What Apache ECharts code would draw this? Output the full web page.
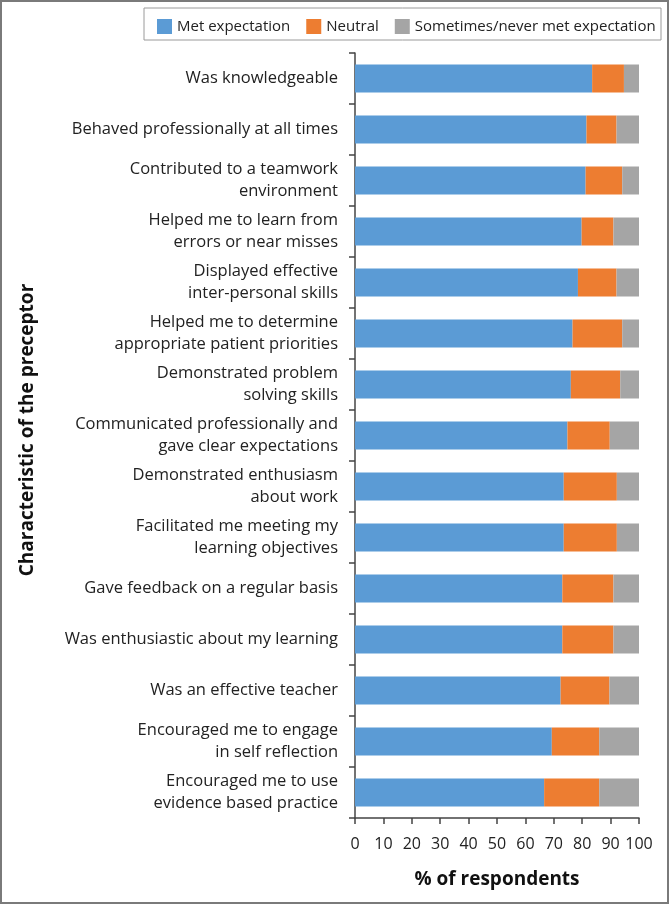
<!DOCTYPE html>
<html><head><meta charset="utf-8">
<script src="https://cdn.jsdelivr.net/npm/echarts@6/dist/echarts.min.js"></script>
<style>html,body{margin:0;padding:0;background:#fff}#c{width:670px;height:905px}</style>
</head><body><div id="c"></div>
<script>
const categories = [
  "Was knowledgeable",
  "Behaved professionally at all times",
  "Contributed to a teamwork\nenvironment",
  "Helped me to learn from\nerrors or near misses",
  "Displayed effective\ninter-personal skills",
  "Helped me to determine\nappropriate patient priorities",
  "Demonstrated problem\nsolving skills",
  "Communicated professionally and\ngave clear expectations",
  "Demonstrated enthusiasm\nabout work",
  "Facilitated me meeting my\nlearning objectives",
  "Gave feedback on a regular basis",
  "Was enthusiastic about my learning",
  "Was an effective teacher",
  "Encouraged me to engage\nin self reflection",
  "Encouraged me to use\nevidence based practice"
];
const metExpectation = [83.5, 81.5, 81.2, 79.8, 78.5, 76.6, 76.0, 74.8, 73.5, 73.5, 73.0, 73.0, 72.4, 69.3, 66.6];
const neutral        = [11.2, 10.6, 12.9, 11.2, 13.6, 17.5, 17.4, 14.9, 18.7, 18.7, 18.0, 18.0, 17.2, 16.7, 19.4];
const sometimesNever = [5.3, 7.9, 5.9, 9.0, 7.9, 5.9, 6.6, 10.3, 7.8, 7.8, 9.0, 9.0, 10.4, 14.0, 14.0];
const seriesNames = ["Met expectation", "Neutral", "Sometimes/never met expectation"];
const xTicks = [0, 10, 20, 30, 40, 50, 60, 70, 80, 90, 100];

const FONT = "'Open Sans', 'Noto Sans', sans-serif";
const chart = echarts.init(document.getElementById('c'), null, {renderer: 'canvas'});
const colors = ['#5B9BD5', '#ED7D31', '#A5A5A5'];
const datas = [metExpectation, neutral, sometimesNever];
chart.setOption({
  animation: false,
  textStyle: {fontFamily: FONT},
  graphic: [
    {type: 'rect', shape: {x: 1, y: 1, width: 667, height: 902}, style: {fill: 'none', stroke: '#7a7a7a', lineWidth: 2}, silent: true},
    {type: 'rect', shape: {x: 144, y: 8, width: 517, height: 32}, style: {fill: '#fff', stroke: '#9a9a9a', lineWidth: 1}, z: 0, silent: true},
    {type: 'text', x: 28, y: 430, rotation: Math.PI / 2,
     style: {text: 'Characteristic of the preceptor', font: "bold 19px " + FONT, fill: '#111', align: 'center', verticalAlign: 'middle'},
     silent: true}
  ],
  legend: {
    data: seriesNames,
    top: 14, left: 152,
    itemWidth: 15, itemHeight: 15, itemGap: 16,
    icon: 'rect',
    textStyle: {fontSize: 15, color: '#222', fontFamily: FONT}
  },
  grid: {left: 355, right: 31, top: 53, bottom: 87, containLabel: false},
  xAxis: {
    type: 'value', min: 0, max: 100, interval: 10,
    name: '% of respondents', nameLocation: 'middle', nameGap: 52,
    nameTextStyle: {fontSize: 19, fontWeight: 'bold', color: '#111', fontFamily: FONT},
    axisLine: {show: true, lineStyle: {color: '#444', width: 1.5}},
    axisTick: {show: true, length: 6, lineStyle: {color: '#444', width: 1.5}},
    axisLabel: {fontSize: 16, color: '#222', margin: 18, fontFamily: FONT},
    splitLine: {show: false}
  },
  yAxis: {
    type: 'category', data: categories, inverse: true,
    axisLine: {show: true, lineStyle: {color: '#444', width: 1.5}},
    axisTick: {show: true, length: 6, alignWithLabel: false, lineStyle: {color: '#444', width: 1.5}},
    axisLabel: {fontSize: 16.5, color: '#222', margin: 17, lineHeight: 22, align: 'right', fontFamily: FONT}
  },
  series: seriesNames.map((n, i) => ({
    name: n, type: 'bar', stack: 'total', data: datas[i], barWidth: 28,
    itemStyle: {color: colors[i]}
  }))
});
</script></body></html>
